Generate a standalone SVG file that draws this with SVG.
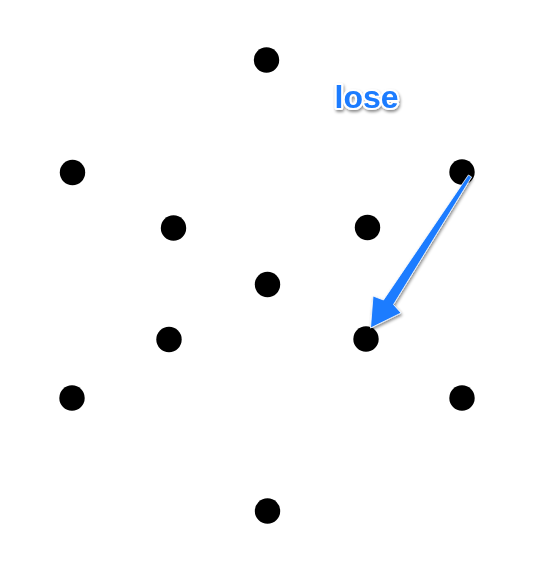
<svg xmlns="http://www.w3.org/2000/svg" width="538" height="563" viewBox="0 0 538 563">
<defs>
<style>
.dot{fill:#000}
.lbl{font-family:"Liberation Sans",Arial,sans-serif;font-weight:bold;font-size:32px;fill:#1a7cff;stroke:#fff;stroke-width:4;paint-order:stroke;stroke-linejoin:round}
</style>
<filter id="sh" x="-30%" y="-30%" width="160%" height="160%">
<feDropShadow dx="1" dy="2" stdDeviation="1.5" flood-color="#000" flood-opacity="0.45"/>
</filter>
</defs>
<rect width="538" height="563" fill="#fff"/>
<g id="n1"><circle class="dot" cx="266.5" cy="60" r="12.7"/></g>
<g id="n2"><circle class="dot" cx="72.5" cy="172.5" r="12.7"/></g>
<g id="n3"><circle class="dot" cx="462" cy="172" r="12.7"/></g>
<g id="n4"><circle class="dot" cx="173.5" cy="228" r="12.7"/></g>
<g id="n5"><circle class="dot" cx="367.5" cy="227.5" r="12.7"/></g>
<g id="n6"><circle class="dot" cx="267.5" cy="284.5" r="12.7"/></g>
<g id="n7"><circle class="dot" cx="169" cy="339.5" r="12.7"/></g>
<g id="n8"><circle class="dot" cx="366" cy="339" r="12.7"/></g>
<g id="n9"><circle class="dot" cx="72" cy="398" r="12.7"/></g>
<g id="n10"><circle class="dot" cx="462" cy="398" r="12.7"/></g>
<g id="n11"><circle class="dot" cx="267.5" cy="511" r="12.7"/></g>
<g id="connectors">
<path filter="url(#sh)" fill="#1a7cff" stroke="#fff" stroke-width="0.8" stroke-linejoin="round" d="M471.6,177 L393.5,304.5 L401,313 L370.5,328 L373,296 L383.5,300 L468.4,175 Z"/>
</g>
<g id="label"><text class="lbl" x="366.5" y="108" text-anchor="middle" filter="url(#sh)">lose</text></g>
</svg>
